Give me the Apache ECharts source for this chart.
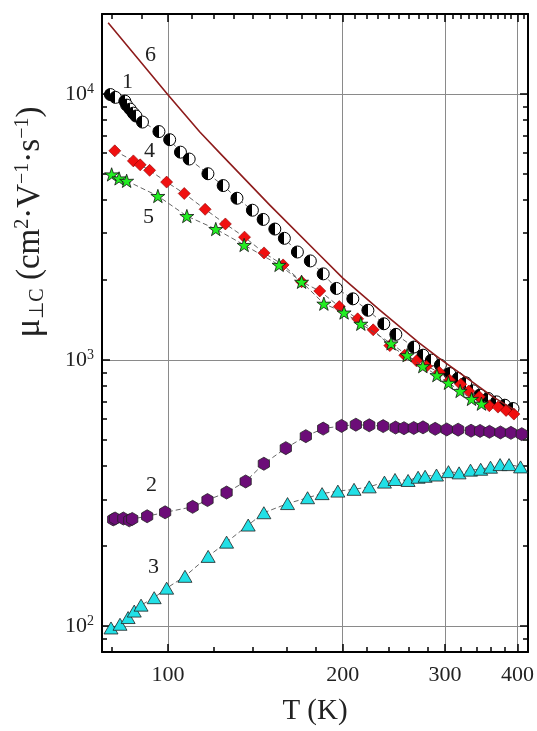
<!DOCTYPE html>
<html>
<head>
<meta charset="utf-8">
<script src="https://cdn.jsdelivr.net/npm/echarts@6/dist/echarts.min.js"></script>
<style>
  html, body { margin: 0; padding: 0; background: #fff; }
  #chart { width: 537px; height: 731px; }
</style>
</head>
<body>
<div id="chart"></div>
<script>
// curve 1 - half filled circles
const t1 = [79.6, 81.2, 84.3, 84.9, 86.1, 87.2, 88.1, 90.4, 96.5, 100.7, 105.1, 108.8, 117.2, 124.5, 131.5, 139.8, 145.9, 152.8, 158.7, 167.1, 175.9, 185.1, 195.1, 208.2, 221.0, 235.4, 246.9, 265.1, 275.0, 284.3, 294.6, 305.7, 316.0, 325.8, 335.4, 344.4, 355.9, 368.0, 380.2, 392.9];
const mu1 = [9960, 9720, 9410, 9090, 8780, 8480, 8270, 7850, 7230, 6740, 6050, 5700, 5020, 4530, 4060, 3660, 3380, 3110, 2870, 2550, 2360, 2110, 1860, 1700, 1540, 1370, 1250, 1120, 1044, 1000, 958, 891, 854, 822, 767, 739, 718, 697, 677, 658];
// curve 2 - purple hexagons
const t2 = [80.5, 81.1, 83.8, 85.8, 86.8, 92.1, 98.9, 110.3, 117.0, 126.2, 136.1, 146.3, 159.6, 172.8, 185.1, 199.1, 210.7, 222.2, 234.8, 246.6, 255.0, 265.1, 275.0, 288.6, 302.1, 316.1, 332.7, 344.8, 357.9, 373.8, 389.7, 406.8];
const mu2 = [252, 254, 254, 250, 253, 259, 268, 281, 298, 318, 350, 408, 467, 518, 553, 566, 572, 569, 565, 558, 555, 556, 559, 552, 549, 548, 543, 542, 538, 535, 533, 527];
// curve 3 - cyan triangles
const t3 = [79.8, 82.7, 85.4, 87.5, 89.9, 94.7, 99.5, 107.0, 117.3, 126.2, 137.5, 146.3, 160.7, 174.0, 184.3, 196.2, 209.2, 222.2, 236.0, 246.1, 259.2, 269.7, 277.3, 290.1, 304.2, 317.3, 332.0, 345.7, 359.4, 373.3, 386.8, 404.9];
const mu3 = [98.5, 101.7, 107.8, 114, 120, 128, 139, 154, 183, 207, 240, 267, 289, 304, 315, 322, 327, 334, 348, 356, 353, 363, 366, 370, 381, 377, 386, 389, 396, 405, 405, 397];
// curve 4 - red diamonds
const t4 = [81.0, 87.2, 89.6, 93.0, 99.5, 106.7, 115.9, 125.6, 135.5, 146.4, 157.9, 169.9, 182.6, 197.3, 212.2, 225.7, 241.1, 255.8, 268.0, 278.8, 293.3, 305.7, 319.3, 329.6, 343.8, 357.7, 370.2, 382.3, 394.3];
const mu4 = [6120, 5610, 5420, 5170, 4670, 4230, 3690, 3250, 2900, 2530, 2280, 1970, 1820, 1590, 1430, 1300, 1134, 1044, 994, 949, 901, 841, 812, 765, 728, 674, 666, 647, 627];
// curve 5 - green stars
const t5 = [80.0, 82.4, 84.9, 96.1, 107.8, 120.9, 135.3, 155.4, 169.9, 185.6, 201.1, 214.9, 242.3, 258.2, 274.8, 290.6, 304.2, 318.6, 333.3, 346.7];
const mu5 = [4990, 4820, 4720, 4140, 3480, 3110, 2710, 2280, 1970, 1630, 1510, 1370, 1156, 1044, 949, 878, 822, 766, 715, 686];
// curve 6 - calculated line
const t6 = [78.9, 100, 113.5, 122.9, 149.8, 182.7, 200.3, 231.7, 271.5, 296.2, 331.1, 363.0, 395.6];
const mu6 = [18530, 9950, 7200, 6000, 3825, 2480, 2030, 1542, 1156, 1000, 841, 728, 649];

const xMajor = [100, 200, 300, 400];
const xMinor = [80, 120, 140, 160, 180, 220, 240, 260, 280, 320, 340, 360, 380];
const xTopMinor = [80, 90, 110, 120, 130, 140, 150, 160, 170, 180, 190, 210, 220, 230, 240, 250, 260, 270, 280, 290, 310, 320, 330, 340, 350, 360, 370, 380, 390, 410];
const yMajor = [100, 1000, 10000];
const yMinor = [90, 200, 300, 400, 500, 600, 700, 800, 900, 2000, 3000, 4000, 5000, 6000, 7000, 8000, 9000];

const serif = 'Liberation Serif';
const X_MIN = 77, X_MAX = 417, Y_MIN = 80, Y_MAX = 20000;

const hexagon = 'path://M50,0 L93.3,25 L93.3,75 L50,100 L6.7,75 L6.7,25 Z';
const star = 'path://M50,0 L61.8,35.4 L97.6,34.5 L68.8,56.9 L79.4,90.5 L50,70 L20.6,90.5 L31.2,56.9 L2.4,34.5 L38.2,35.4 Z';

function pairs(t, mu) {
  return t.map((v, i) => [v, mu[i]]);
}

// one log axis carrying only a set of ticks (inside, like the original frame)
function frameAxis(pos, isX, ticks, len, showLine) {
  return {
    type: 'log',
    logBase: 10,
    position: pos,
    min: isX ? X_MIN : Y_MIN,
    max: isX ? X_MAX : Y_MAX,
    axisLine: { show: showLine, onZero: false, lineStyle: { color: '#000', width: 2 } },
    axisTick: { show: true, inside: true, length: len, customValues: ticks, lineStyle: { color: '#000', width: 1.5 } },
    axisLabel: { show: false },
    splitLine: { show: false }
  };
}

const xBottom = frameAxis('bottom', true, xMajor, 8, true);
xBottom.axisLabel = {
  show: true,
  customValues: xMajor,
  margin: 12,
  fontFamily: serif,
  fontSize: 22,
  color: '#222'
};
xBottom.splitLine = { show: true, lineStyle: { color: '#8a8a8a', width: 1 } };
xBottom.name = 'T (K)';
xBottom.nameLocation = 'middle';
xBottom.nameGap = 45;
xBottom.nameTextStyle = { fontFamily: serif, fontSize: 29, color: '#222' };

const yLeft = frameAxis('left', false, yMajor, 8, true);
yLeft.axisLabel = {
  show: true,
  customValues: yMajor,
  margin: 8,
  fontFamily: serif,
  fontSize: 22,
  color: '#222',
  formatter: v => '10{sup|' + Math.round(Math.log10(v)) + '}',
  rich: {
    sup: { fontFamily: serif, fontSize: 14, color: '#222', verticalAlign: 'top', padding: [0, 0, 10, 0] }
  }
};
yLeft.splitLine = { show: true, lineStyle: { color: '#8a8a8a', width: 1 } };

const dash = { color: '#555', width: 0.9, type: [5, 3] };

function dataSeries(name, t, mu, symbol, size, itemStyle, z) {
  return {
    name: name,
    type: 'line',
    xAxisIndex: 0,
    yAxisIndex: 0,
    data: pairs(t, mu),
    symbol: symbol,
    symbolSize: size,
    symbolKeepAspect: true,
    showAllSymbol: true,
    lineStyle: dash,
    itemStyle: itemStyle,
    z: z,
    animation: false
  };
}

const halfFill = {
  type: 'linear', x: 0, y: 0, x2: 1, y2: 0,
  colorStops: [
    { offset: 0, color: '#000' }, { offset: 0.5, color: '#000' },
    { offset: 0.5, color: '#fff' }, { offset: 1, color: '#fff' }
  ]
};

const labelText = (txt, x, y) => ({
  type: 'text', left: x, top: y,
  style: { text: txt, font: '22px "Liberation Serif"', fill: '#222' }
});

const chart = echarts.init(document.getElementById('chart'));
chart.setOption({
  backgroundColor: '#fff',
  animation: false,
  grid: { left: 102, right: 9, top: 14, bottom: 79 },
  xAxis: [
    xBottom,
    frameAxis('bottom', true, xMinor, 5, false),
    frameAxis('top', true, xMajor, 8, true),
    frameAxis('top', true, xTopMinor, 5, false)
  ],
  yAxis: [
    yLeft,
    frameAxis('left', false, yMinor, 5, false),
    frameAxis('right', false, yMajor, 8, true),
    frameAxis('right', false, yMinor, 5, false)
  ],
  series: [
    dataSeries('1', t1, mu1, 'circle', 12, { color: halfFill, borderColor: '#000', borderWidth: 1 }, 2),
    dataSeries('2', t2, mu2, hexagon, 13, { color: '#6c0d78', borderColor: '#222', borderWidth: 0.8 }, 3),
    dataSeries('3', t3, mu3, 'triangle', [14, 12], { color: '#22e0e6', borderColor: '#222', borderWidth: 0.8 }, 3),
    dataSeries('4', t4, mu4, 'diamond', 12, { color: '#f01010', borderColor: '#8a0000', borderWidth: 0.6 }, 4),
    dataSeries('5', t5, mu5, star, 14, { color: '#22ee22', borderColor: '#111', borderWidth: 0.8 }, 5),
    {
      name: '6',
      type: 'line',
      xAxisIndex: 0,
      yAxisIndex: 0,
      data: pairs(t6, mu6),
      symbol: 'none',
      smooth: false,
      lineStyle: { color: '#8e1c1c', width: 1.6, join: 'round' },
      z: 6
    }
  ],
  graphic: [
    labelText('6', 145, 44),
    labelText('1', 122, 71),
    labelText('4', 144, 140),
    labelText('5', 143, 206),
    labelText('2', 146, 474),
    labelText('3', 148, 556),
    {
      type: 'text',
      x: 30,
      y: 222,
      rotation: Math.PI / 2,
      style: {
        text: '{m|μ}{sub|⊥C}{n| (cm}{sup|2}{n|·V}{sup|−1}{n|·s}{sup|−1}{n|)}',
        align: 'center',
        verticalAlign: 'middle',
        fill: '#222',
        rich: {
          m: { fontFamily: serif, fontSize: 35, fill: '#222' },
          n: { fontFamily: serif, fontSize: 33, fill: '#222' },
          sub: { fontFamily: serif, fontSize: 20, fill: '#222', verticalAlign: 'bottom', padding: [12, 0, 0, 0] },
          sup: { fontFamily: serif, fontSize: 20, fill: '#222', verticalAlign: 'top', padding: [0, 0, 14, 0] }
        }
      }
    }
  ]
});
</script>
</body>
</html>
